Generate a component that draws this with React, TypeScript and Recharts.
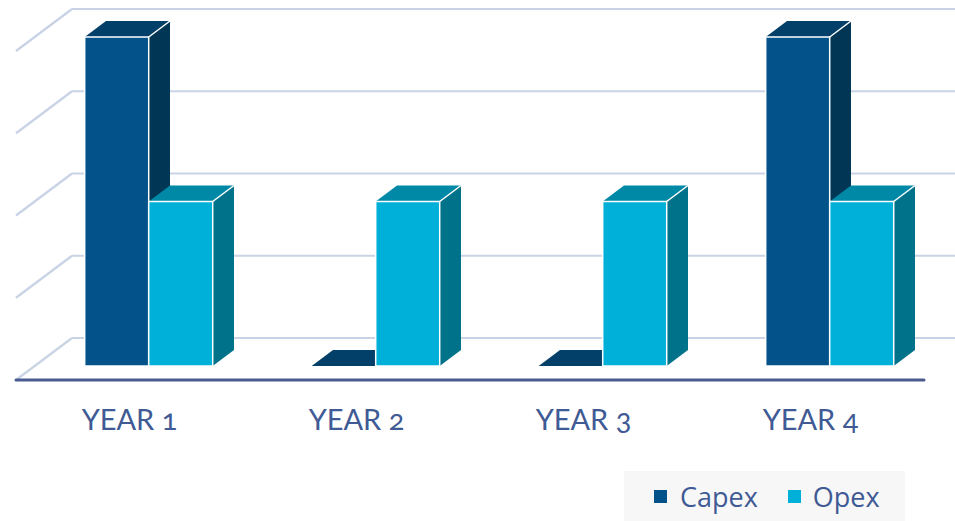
import React from "react";
import { BarChart, Bar, XAxis, YAxis, CartesianGrid } from "recharts";

const categories = ["YEAR 1", "YEAR 2", "YEAR 3", "YEAR 4"];
const capex = [4, 0, 0, 4];
const opex = [2, 2, 2, 2];
const yTicks = [0, 1, 2, 3, 4];

const data = categories.map((c, i) => ({ name: c, Capex: capex[i], Opex: opex[i] }));

const W = 955;
const H = 521;
const XAXIS_H = 30;
const MARGIN = { top: 37, right: 12.3, bottom: 155 - XAXIS_H, left: 34.7 };
const PLOT_BOTTOM = H - MARGIN.bottom - XAXIS_H;
// perspective offsets
const FRONT_DX = 18.7; // bar front plane relative to axis plane
const FRONT_DY = 14;
const BAR_DX = 21.3; // bar depth
const BAR_DY = 16;
const WALL_DX = 56; // back wall relative to axis plane
const WALL_DY = 42;

const AXIS_LEFT = MARGIN.left - FRONT_DX;
const AXIS_RIGHT = W - MARGIN.right - FRONT_DX;

const COLORS = {
  capex: { front: "#03538A", top: "#023F69", side: "#013655" },
  opex: { front: "#00B0D8", top: "#0089A7", side: "#00728A" },
};

const make3D = (c: { front: string; top: string; side: string }) => (props: any) => {
  const { x, y, width, height } = props;
  if (x == null || y == null) return null;
  const h = Math.max(0, height || 0);
  const w = width;
  const top = `M${x},${y} L${x + w},${y} L${x + w + BAR_DX},${y - BAR_DY} L${x + BAR_DX},${y - BAR_DY} Z`;
  const side = `M${x + w},${y} L${x + w + BAR_DX},${y - BAR_DY} L${x + w + BAR_DX},${y + h - BAR_DY} L${x + w},${y + h} Z`;
  return (
    <g>
      <path d={side} fill={c.side} />
      <path d={top} fill={c.top} />
      {h > 0 && (
        <>
          <rect x={x} y={y} width={w} height={h} fill={c.front} stroke="#ffffff" strokeWidth={1.5} />
          <line x1={x + w} y1={y} x2={x + w + BAR_DX} y2={y - BAR_DY} stroke="#ffffff" strokeWidth={1.5} />
        </>
      )}
    </g>
  );
};

const GridLine = (props: any) => {
  const { y1, index } = props;
  const yFront = y1 + FRONT_DY; // axis plane
  const yWall = yFront - WALL_DY;
  const isBase = Math.abs(y1 - PLOT_BOTTOM) < 1;
  return (
    <g key={`g-${index}-${y1}`}>
      <line x1={AXIS_LEFT} y1={yFront} x2={AXIS_LEFT + WALL_DX} y2={yWall} stroke="#C9D3E6" strokeWidth={2.2} />
      <line x1={AXIS_LEFT + WALL_DX} y1={yWall} x2={W + 30} y2={yWall} stroke="#C9D3E6" strokeWidth={2.2} />
      {isBase && (
        <line x1={AXIS_LEFT} y1={yFront} x2={AXIS_RIGHT} y2={yFront} stroke="#4A5B8F" strokeWidth={3} strokeLinecap="round" />
      )}
    </g>
  );
};

const XTick = (props: any) => {
  const { x, payload } = props;
  return (
    <text
      x={x - FRONT_DX}
      y={PLOT_BOTTOM + 64}
      textAnchor="middle"
      fill="#3F5A94"
      fontFamily="Lato, 'Open Sans', sans-serif"
      fontSize={29}
      style={{ fontVariantNumeric: "oldstyle-nums", fontFeatureSettings: '"onum"' }}
    >
      {payload.value}
    </text>
  );
};

const LegendBox = () => (
  <div
    style={{
      position: "absolute",
      left: 624,
      top: 471,
      width: 281,
      height: 50,
      background: "#F7F7F7",
      display: "flex",
      alignItems: "center",
      fontFamily: "'Open Sans', Lato, sans-serif",
      fontSize: 27,
      color: "#3F5A94",
      boxSizing: "border-box",
      paddingLeft: 30,
    }}
  >
    <span style={{ display: "inline-block", width: 13, height: 13, background: COLORS.capex.front, marginRight: 13 }} />
    <span style={{ marginRight: 30 }}>Capex</span>
    <span style={{ display: "inline-block", width: 13, height: 13, background: COLORS.opex.front, marginRight: 12 }} />
    <span>Opex</span>
  </div>
);

export default function App() {
  return (
    <div style={{ position: "absolute", left: 0, top: 0, width: W, height: H, background: "#ffffff" }}>
      <BarChart width={W} height={H} data={data} margin={MARGIN} barGap={0} barSize={64}>
        <CartesianGrid vertical={false} horizontal={(p: any) => <GridLine {...p} />} />
        <XAxis dataKey="name" height={XAXIS_H} axisLine={false} tickLine={false} tick={<XTick />} interval={0} />
        <YAxis hide domain={[0, 4]} ticks={yTicks} />
        <Bar dataKey="Capex" isAnimationActive={false} shape={make3D(COLORS.capex)} />
        <Bar dataKey="Opex" isAnimationActive={false} shape={make3D(COLORS.opex)} />
      </BarChart>
      <LegendBox />
    </div>
  );
}
